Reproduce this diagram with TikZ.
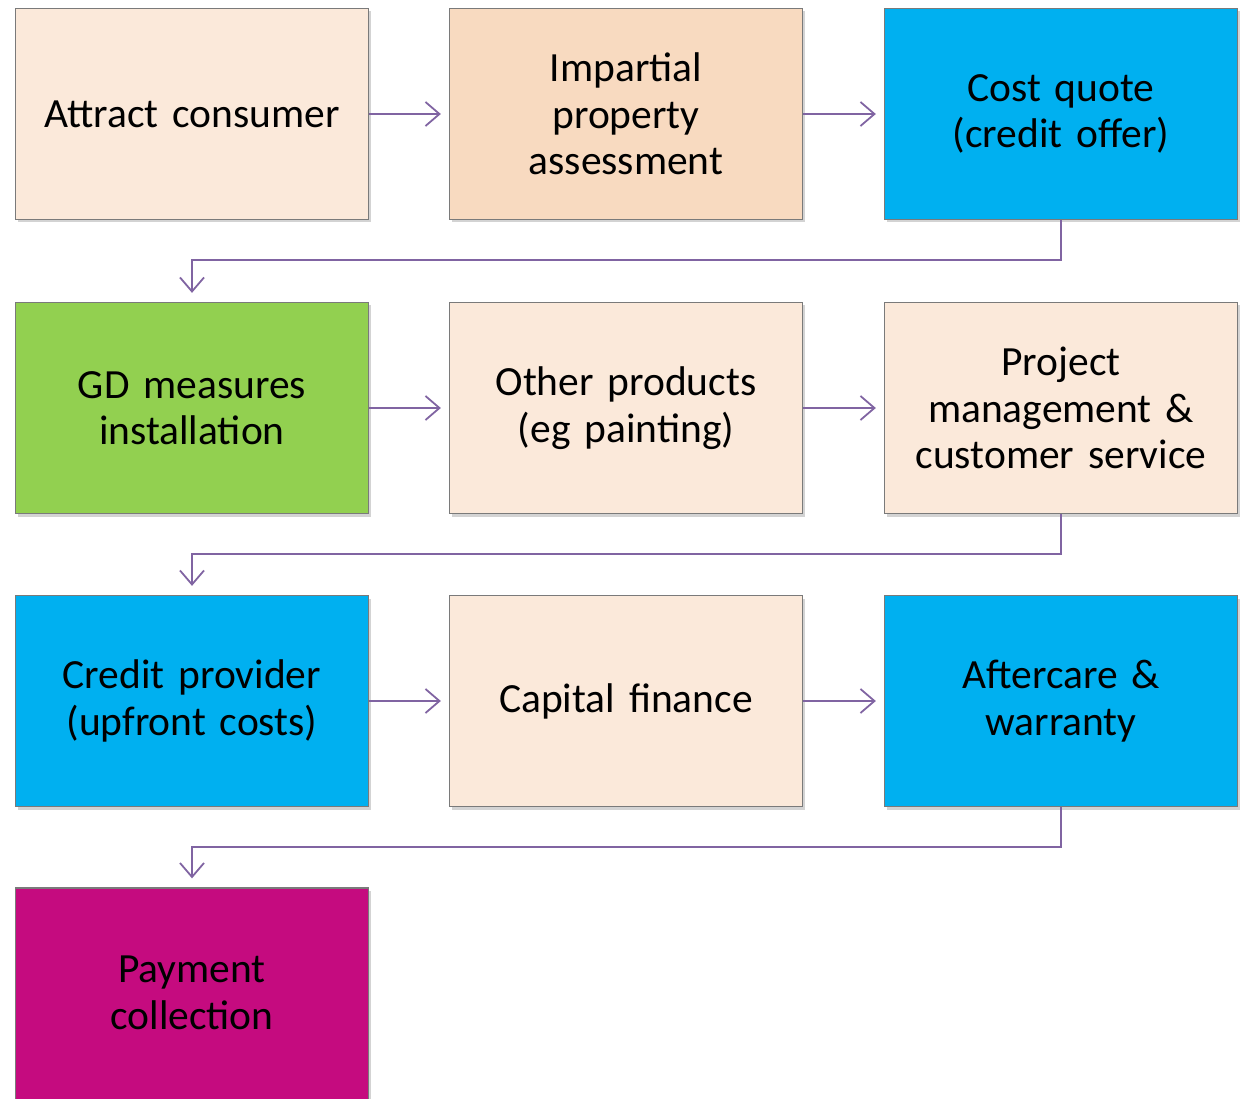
\documentclass[tikz,border=0pt]{standalone}
\usepackage{fontspec}
\setmainfont{Carlito}
\usetikzlibrary{arrows.meta,shadows}
\definecolor{peachA}{HTML}{FBE9DA}
\definecolor{peachB}{HTML}{F8DAC0}
\definecolor{bluebox}{HTML}{00B0F0}
\definecolor{greenbox}{HTML}{92D050}
\definecolor{magbox}{HTML}{C50B7F}
\definecolor{arrowc}{HTML}{8064A2}
\definecolor{edgec}{HTML}{7A7A7A}
\tikzset{
  txt/.style={font=\fontsize{41.5pt}{46.5pt}\selectfont},
  box/.style={draw=edgec, line width=1.3pt, minimum width=353pt, minimum height=211pt,
    text width=345pt, align=center, inner sep=0pt, txt,
    drop shadow={shadow xshift=2pt, shadow yshift=-3pt, opacity=0.35}},
  arr/.style={draw=arrowc, line width=1.8pt, -{Straight Barb[length=14pt,width=24pt,line width=1.8pt]}, shorten >=8pt}
}
\begin{document}
\begin{tikzpicture}[x=1pt,y=-1pt]
\useasboundingbox (0,0) rectangle (1243,1099);
\node[box, fill=peachA] (a) at (192,114) {Attract consumer};
\node[box, fill=peachB] (b) at (626,114) {Impartial\\property\\assessment};
\node[box, fill=bluebox] (c) at (1061,114) {Cost quote\\(credit offer)};
\node[box, fill=greenbox] (d) at (192,408) {GD measures\\installation};
\node[box, fill=peachA] (e) at (626,408) {Other products\\(eg painting)};
\node[box, fill=peachA] (f) at (1061,408) {Project\\management \&\\customer service};
\node[box, fill=bluebox] (g) at (192,701) {Credit provider\\(upfront costs)};
\node[box, fill=peachA] (h) at (626,701) {Capital finance};
\node[box, fill=bluebox] (i) at (1061,701) {Aftercare \&\\warranty};
\node[box, fill=magbox, minimum height=222pt] (j) at (192,999) {};
\node[txt, align=center] (jt) at (192,993) {Payment\\collection};
\draw[arr] (a.east) -- (b.west);
\draw[arr] (b.east) -- (c.west);
\draw[arr] (d.east) -- (e.west);
\draw[arr] (e.east) -- (f.west);
\draw[arr] (g.east) -- (h.west);
\draw[arr] (h.east) -- (i.west);
\draw[arr, shorten >=9pt] (c.south) -- ++(0,40) -| (d.north);
\draw[arr, shorten >=9pt] (f.south) -- ++(0,40) -| (g.north);
\draw[arr, shorten >=9pt] (i.south) -- ++(0,40) -| (j.north);
\end{tikzpicture}
\end{document}
